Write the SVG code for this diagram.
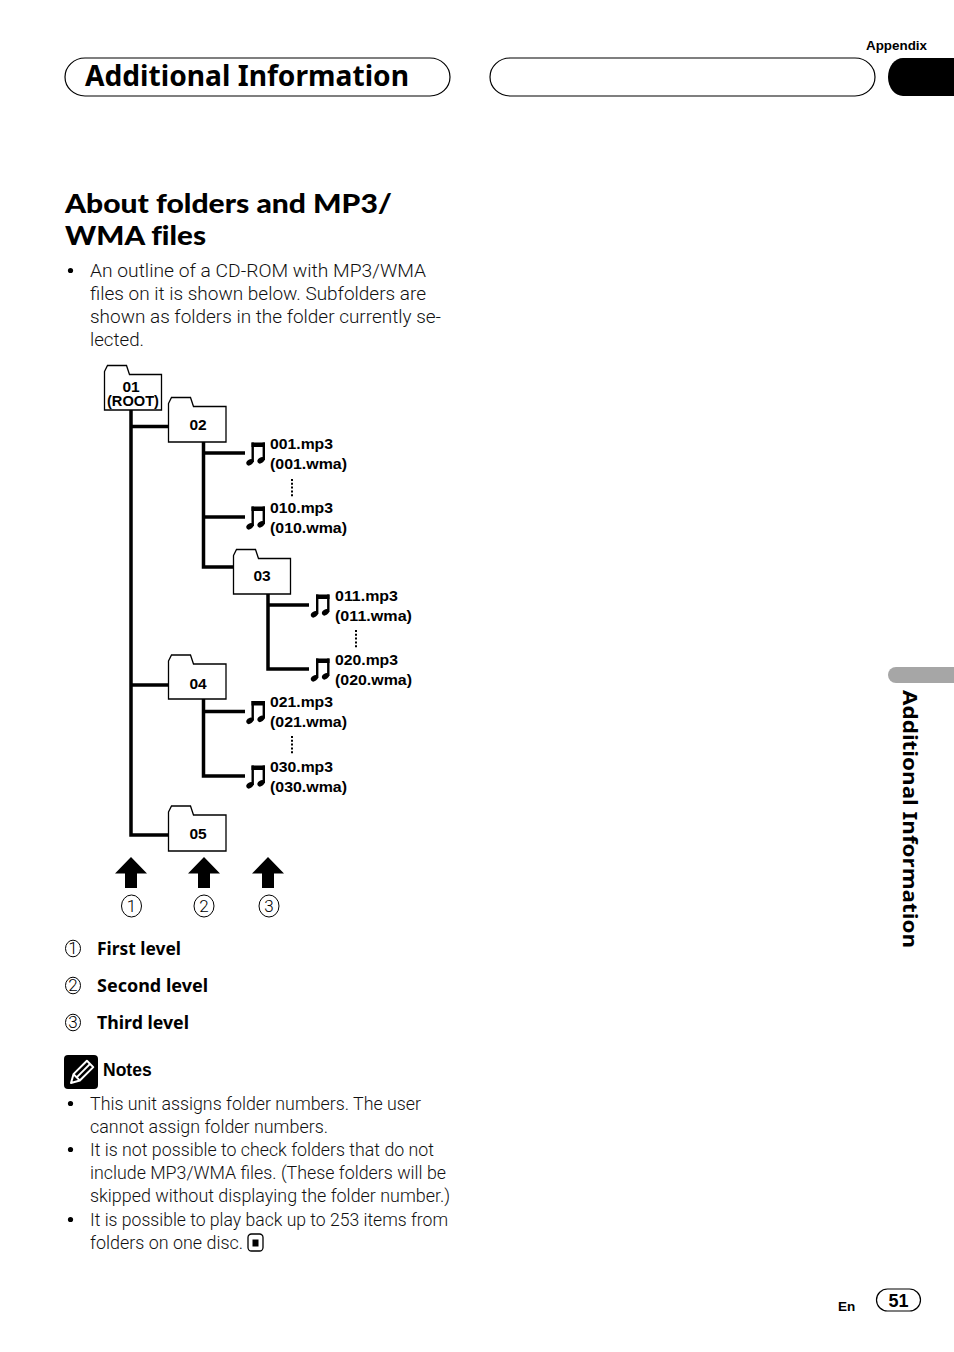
<svg xmlns="http://www.w3.org/2000/svg" xmlns:xlink="http://www.w3.org/1999/xlink" width="954" height="1352" viewBox="0 0 954 1352">
<style>
.hb{font-family:"Noto Sans","Open Sans",sans-serif;font-weight:700;fill:#000}
.hx{font-family:Lato,"Noto Sans",sans-serif;font-weight:900;fill:#000;font-variant-ligatures:none}
.hv{font-family:"Liberation Sans",Arial,sans-serif;font-weight:700;fill:#000}
.bd{font-family:Roboto,"Liberation Sans",sans-serif;font-weight:300;font-size:18.5px;fill:#111}
.nt{font-family:Roboto,"Liberation Sans",sans-serif;font-weight:300;font-size:18px;fill:#111}
.lb{font-family:"Liberation Sans",Arial,sans-serif;font-weight:700;font-size:15.5px;fill:#000}
.fd{fill:#fff;stroke:#000;stroke-width:1.3;stroke-linejoin:miter}
.cn{fill:none;stroke:#000;stroke-width:3.5;stroke-linejoin:miter;stroke-linecap:butt}
.dt{stroke:#000;stroke-width:2;stroke-dasharray:2 1.8}
.cir{fill:none;stroke:#000;stroke-width:1}
.cd{font-family:Roboto,"Liberation Sans",sans-serif;font-weight:300;font-size:17px;fill:#000;text-anchor:middle}
.pill{fill:#fff;stroke:#000;stroke-width:1.2}
</style>
<defs>
<g id="note">
<rect x="0" y="0" width="13.5" height="4.5"/>
<rect x="0" y="0" width="2.4" height="19.5"/>
<rect x="11.1" y="0" width="2.4" height="17.5"/>
<ellipse cx="-1.6" cy="19.8" rx="3.9" ry="2.7" transform="rotate(-35 -1.6 19.8)"/>
<ellipse cx="9.5" cy="17.8" rx="3.9" ry="2.7" transform="rotate(-35 9.5 17.8)"/>
</g>
<path id="uparrow" d="M0,0 L16,16.5 H6 V31 H-6 V16.5 H-16 Z"/>
</defs>
<rect width="954" height="1352" fill="#fff"/>

<g id="header">
<text class="hv" x="866" y="50" font-size="12.5" textLength="61" lengthAdjust="spacingAndGlyphs">Appendix</text>
<rect class="pill" x="65" y="58" width="385" height="38" rx="20" ry="19"/>
<text class="hb" x="85" y="86" font-size="28" textLength="324" lengthAdjust="spacingAndGlyphs">Additional Information</text>
<rect class="pill" x="490" y="58" width="385" height="38" rx="20" ry="19"/>
<path d="M954,58 H903 A15,19 0 0 0 888,77 A15,19 0 0 0 903,96 H954 Z" fill="#000"/>
</g>

<g id="title">
<text class="hx" x="65" y="213" font-size="26.5" textLength="327" lengthAdjust="spacingAndGlyphs">About folders and MP3/</text>
<text class="hx" x="65" y="245" font-size="26.5" textLength="141" lengthAdjust="spacingAndGlyphs">WMA files</text>
</g>
<g id="intro">
<circle cx="70.5" cy="270.5" r="2.6"/>
<text class="bd" x="90" y="277" textLength="336" lengthAdjust="spacingAndGlyphs">An outline of a CD-ROM with MP3/WMA</text>
<text class="bd" x="90" y="300" textLength="336" lengthAdjust="spacingAndGlyphs">files on it is shown below. Subfolders are</text>
<text class="bd" x="90" y="323" textLength="351" lengthAdjust="spacingAndGlyphs">shown as folders in the folder currently se-</text>
<text class="bd" x="90" y="346" textLength="54" lengthAdjust="spacingAndGlyphs">lected.</text>
</g>

<g id="connectors">
<path class="cn" d="M131,410 V835 H168.5"/>
<path class="cn" d="M131,426.5 H168.5"/>
<path class="cn" d="M131,685 H168.5"/>
<path class="cn" d="M203.5,442 V567 H233.5"/>
<path class="cn" d="M203.5,453 H245"/>
<path class="cn" d="M203.5,517 H245"/>
<path class="cn" d="M268,594 V669 H309"/>
<path class="cn" d="M268,605 H309"/>
<path class="cn" d="M203.5,699 V776 H245"/>
<path class="cn" d="M203.5,711.5 H245"/>
<line class="dt" x1="292" y1="479" x2="292" y2="497"/>
<line class="dt" x1="356" y1="630" x2="356" y2="648"/>
<line class="dt" x1="292" y1="736" x2="292" y2="754"/>
</g>

<g id="folder-01">
<path class="fd" d="M104.5,371.5 L107.5,365.5 H126.5 L129.5,374.5 H161.5 V410 H104.5 Z"/>
<text class="lb" x="131" y="391.5" text-anchor="middle" font-size="13.5">01</text>
<text class="lb" x="133" y="406" text-anchor="middle" font-size="13.5" textLength="52" lengthAdjust="spacingAndGlyphs">(ROOT)</text>
</g>
<g id="folder-02">
<path class="fd" d="M168.5,403.5 L171.5,397.5 H190.5 L193.5,406.5 H226 V442 H168.5 Z"/>
<text class="lb" x="198" y="430" text-anchor="middle">02</text>
</g>
<g id="folder-03">
<path class="fd" d="M233.5,555.5 L236.5,549.5 H255.5 L258.5,558.5 H290.5 V594 H233.5 Z"/>
<text class="lb" x="262" y="581" text-anchor="middle">03</text>
</g>
<g id="folder-04">
<path class="fd" d="M168.5,661 L171.5,655 H190.5 L193.5,664 H226 V699 H168.5 Z"/>
<text class="lb" x="198" y="689" text-anchor="middle">04</text>
</g>
<g id="folder-05">
<path class="fd" d="M168.5,812 L171.5,806 H190.5 L193.5,815 H226 V851 H168.5 Z"/>
<text class="lb" x="198" y="839" text-anchor="middle">05</text>
</g>

<g id="file-001">
<use xlink:href="#note" x="251.5" y="442.5"/>
<text class="lb" x="270" y="449" textLength="63" lengthAdjust="spacingAndGlyphs">001.mp3</text>
<text class="lb" x="270" y="469" textLength="77" lengthAdjust="spacingAndGlyphs">(001.wma)</text>
</g>
<g id="file-010">
<use xlink:href="#note" x="251.5" y="506.5"/>
<text class="lb" x="270" y="513" textLength="63" lengthAdjust="spacingAndGlyphs">010.mp3</text>
<text class="lb" x="270" y="533" textLength="77" lengthAdjust="spacingAndGlyphs">(010.wma)</text>
</g>
<g id="file-011">
<use xlink:href="#note" x="316" y="594.5"/>
<text class="lb" x="335" y="601" textLength="63" lengthAdjust="spacingAndGlyphs">011.mp3</text>
<text class="lb" x="335" y="621" textLength="77" lengthAdjust="spacingAndGlyphs">(011.wma)</text>
</g>
<g id="file-020">
<use xlink:href="#note" x="316" y="658.5"/>
<text class="lb" x="335" y="665" textLength="63" lengthAdjust="spacingAndGlyphs">020.mp3</text>
<text class="lb" x="335" y="685" textLength="77" lengthAdjust="spacingAndGlyphs">(020.wma)</text>
</g>
<g id="file-021">
<use xlink:href="#note" x="251.5" y="701"/>
<text class="lb" x="270" y="707" textLength="63" lengthAdjust="spacingAndGlyphs">021.mp3</text>
<text class="lb" x="270" y="727" textLength="77" lengthAdjust="spacingAndGlyphs">(021.wma)</text>
</g>
<g id="file-030">
<use xlink:href="#note" x="251.5" y="765.5"/>
<text class="lb" x="270" y="772" textLength="63" lengthAdjust="spacingAndGlyphs">030.mp3</text>
<text class="lb" x="270" y="792" textLength="77" lengthAdjust="spacingAndGlyphs">(030.wma)</text>
</g>

<g id="level-arrows">
<use xlink:href="#uparrow" x="131" y="857"/>
<use xlink:href="#uparrow" x="204" y="857"/>
<use xlink:href="#uparrow" x="268" y="857"/>
<ellipse class="cir" cx="131.5" cy="906" rx="10" ry="11"/>
<text class="cd" x="131.5" y="912">1</text>
<ellipse class="cir" cx="204" cy="906" rx="10" ry="11"/>
<text class="cd" x="204" y="912">2</text>
<ellipse class="cir" cx="269" cy="906" rx="10" ry="11"/>
<text class="cd" x="269" y="912">3</text>
</g>

<g id="legend">
<ellipse class="cir" cx="73" cy="948.5" rx="7.5" ry="8.3"/>
<text class="cd" x="73" y="953.5" font-size="13.5">1</text>
<text class="hb" x="97" y="955" font-size="17.5" textLength="84" lengthAdjust="spacingAndGlyphs">First level</text>
<ellipse class="cir" cx="73" cy="985.5" rx="7.5" ry="8.3"/>
<text class="cd" x="73" y="990.5" font-size="13.5">2</text>
<text class="hb" x="97" y="992" font-size="17.5" textLength="111" lengthAdjust="spacingAndGlyphs">Second level</text>
<ellipse class="cir" cx="73" cy="1022.5" rx="7.5" ry="8.3"/>
<text class="cd" x="73" y="1027.5" font-size="13.5">3</text>
<text class="hb" x="97" y="1029" font-size="17.5" textLength="92" lengthAdjust="spacingAndGlyphs">Third level</text>
</g>

<g id="notes">
<rect x="64" y="1055" width="34" height="34" rx="4" fill="#000"/>
<g transform="translate(71,1083) rotate(-45)" fill="none" stroke="#fff" stroke-width="2" stroke-linejoin="round">
<path d="M0,0 L8,-4.5 H27 V4.5 H8 Z"/>
<path d="M8,-4.5 V4.5"/>
<path d="M8,0 H27"/>
</g>
<text class="hv" x="103" y="1076" font-size="17.5">Notes</text>
<circle cx="70.5" cy="1103.5" r="2.6"/>
<text class="nt" x="90" y="1110" textLength="331" lengthAdjust="spacingAndGlyphs">This unit assigns folder numbers. The user</text>
<text class="nt" x="90" y="1133" textLength="238" lengthAdjust="spacingAndGlyphs">cannot assign folder numbers.</text>
<circle cx="70.5" cy="1149.5" r="2.6"/>
<text class="nt" x="90" y="1156" textLength="344" lengthAdjust="spacingAndGlyphs">It is not possible to check folders that do not</text>
<text class="nt" x="90" y="1179" textLength="356" lengthAdjust="spacingAndGlyphs">include MP3/WMA files. (These folders will be</text>
<text class="nt" x="90" y="1202" textLength="360" lengthAdjust="spacingAndGlyphs">skipped without displaying the folder number.)</text>
<circle cx="70.5" cy="1219.5" r="2.6"/>
<text class="nt" x="90" y="1226" textLength="358" lengthAdjust="spacingAndGlyphs">It is possible to play back up to 253 items from</text>
<text class="nt" x="90" y="1249" textLength="153" lengthAdjust="spacingAndGlyphs">folders on one disc.</text>
<rect x="248" y="1234" width="15" height="17" rx="3.5" fill="#fff" stroke="#000" stroke-width="1.3"/>
<rect x="252.5" y="1239.5" width="6" height="7" fill="#000"/>
</g>

<g id="side-tab">
<rect x="888" y="667" width="80" height="16" rx="8" fill="#a6a6a6"/>
<text class="hb" transform="translate(903,690) rotate(90)" font-size="19.5" textLength="258" lengthAdjust="spacingAndGlyphs">Additional Information</text>
</g>

<g id="footer">
<text class="hv" x="838" y="1311" font-size="13.5">En</text>
<rect class="pill" x="876.5" y="1289" width="44" height="22" rx="11"/>
<text class="hv" x="898.5" y="1307" font-size="18" text-anchor="middle">51</text>
</g>
</svg>
